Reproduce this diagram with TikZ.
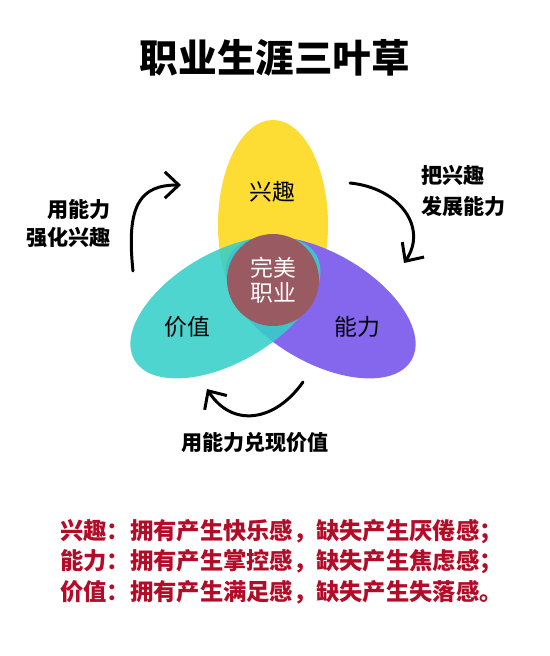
\documentclass[tikz,border=0pt]{standalone}
\usepackage{fontspec}
\setmainfont{Noto Sans CJK SC}
\usepackage{tikz}
\usetikzlibrary{arrows.meta}
\definecolor{leafyellow}{RGB}{253,220,51}
\definecolor{leafteal}{RGB}{54,207,200}
\definecolor{leafpurple}{RGB}{133,103,238}
\definecolor{corered}{RGB}{154,90,98}
\definecolor{notered}{RGB}{178,12,40}
\tikzset{
  core/.style={circle, fill=corered, text=white, minimum size=1.84cm, inner sep=0pt,
    align=center, font=\fontsize{13}{14.5}\selectfont},
  leaflabel/.style={font=\fontsize{13}{15}\selectfont},
  sidelabel/.style={font=\fontsize{12}{16}\selectfont\bfseries, inner sep=0pt},
  notetext/.style={font=\fontsize{13.25}{15}\selectfont\bfseries, text=notered, anchor=west, inner sep=0pt},
  bendarrow/.style={-{Straight Barb[length=8pt,width=15pt]}, line width=1.7pt, line cap=round}
}
\begin{document}
\begin{tikzpicture}[x=0.02cm, y=-0.02cm]
    \useasboundingbox (0,0) rectangle (550,656);
    % Title
    \node[font=\fontsize{22}{26}\selectfont\bfseries] (title) at (275,58) {职业生涯三叶草};

    % Three leaves
    \fill[leafyellow] (273,225) ellipse [x radius=55, y radius=105];
    \fill[leafpurple, rotate around={-30:(320.6,307.5)}] (320.6,307.5) ellipse [x radius=105, y radius=55];
    \fill[leafteal, opacity=0.88, rotate around={30:(225.4,307.5)}] (225.4,307.5) ellipse [x radius=105, y radius=55];

    % Leaf labels
    \node[leaflabel] (interest) at (272,192) {兴趣};
    \node[leaflabel] (value) at (187,327) {价值};
    \node[leaflabel] (ability) at (357,327) {能力};
    \node[core] (core) at (273,280) {完美\\职业};

    % Cycle arrows
    \coordinate (la) at (133,271);
    \coordinate (lb) at (181,185);
    \coordinate (ra) at (350,183);
    \coordinate (rb) at (404,263);
    \coordinate (ba) at (303,382);
    \coordinate (bb) at (207,389);
    \draw[bendarrow] (la) .. controls (126,205) and (140,185) .. (lb);
    \draw[bendarrow] (ra) .. controls (400,188) and (428,228) .. (rb);
    \draw[bendarrow] (ba) .. controls (275,422) and (232,428) .. (bb);

    % Arrow labels
    \node[sidelabel, anchor=east, align=right] (uselbl) at (111,224) {用能力\\强化兴趣};
    \node[sidelabel, anchor=west, align=left, font=\fontsize{12}{18}\selectfont\bfseries] (growlbl) at (421,191) {把兴趣\\发展能力};
    \node[sidelabel] (reallbl) at (255,443) {用能力兑现价值};

    % Notes
    \node[notetext] (note1) at (60,532) {兴趣：拥有产生快乐感，缺失产生厌倦感；};
    \node[notetext] (note2) at (60,562) {能力：拥有产生掌控感，缺失产生焦虑感；};
    \node[notetext] (note3) at (60,592) {价值：拥有产生满足感，缺失产生失落感。};
\end{tikzpicture}
\end{document}
